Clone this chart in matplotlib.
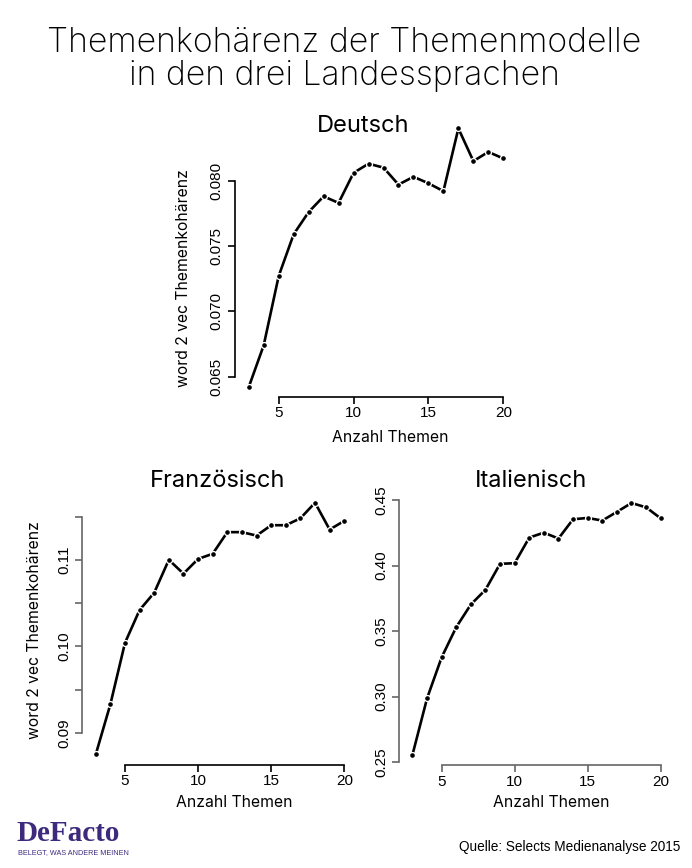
import matplotlib
matplotlib.use("Agg")
import matplotlib.pyplot as plt

W, H = 692, 868

themen = list(range(3, 21))
deutsch = [0.0642, 0.0674, 0.0727, 0.0759, 0.0776, 0.0788, 0.0783, 0.0806, 0.0813,
           0.0810, 0.0797, 0.0803, 0.0798, 0.0792, 0.0840, 0.0815, 0.0822, 0.0817]
franz = [0.0875, 0.0933, 0.1004, 0.1042, 0.1062, 0.1100, 0.1084, 0.1101, 0.1107,
         0.1132, 0.1132, 0.1128, 0.1140, 0.1140, 0.1148, 0.1166, 0.1135, 0.1145]
ital = [0.2556, 0.2987, 0.3300, 0.3530, 0.3703, 0.3815, 0.4013, 0.4018, 0.4213,
        0.4251, 0.4206, 0.4353, 0.4363, 0.4343, 0.4409, 0.4477, 0.4444, 0.4360]

x_ticks = [5, 10, 15, 20]
de_yticks = [0.065, 0.070, 0.075, 0.080]
de_ylabels = ["0.065", "0.070", "0.075", "0.080"]
fr_yticks = [0.090, 0.095, 0.100, 0.105, 0.110, 0.115]
fr_ylabels = ["0.09", "", "0.10", "", "0.11", ""]
it_yticks = [0.25, 0.30, 0.35, 0.40, 0.45]
it_ylabels = ["0.25", "0.30", "0.35", "0.40", "0.45"]

title_font = ["Inter", "DejaVu Sans"]
tick_font = ["Liberation Sans", "DejaVu Sans"]

fig = plt.figure(figsize=(W / 100, H / 100), dpi=100)
fig.patch.set_facecolor("white")


def make_axes(l, r, t, b, xlim, ylim, yticks, ylabels, spine_color_x, spine_color_y, y, title,
              title_xy, xlab_xy, ylab_xy=None):
    ax = fig.add_axes([l / W, 1 - b / H, (r - l) / W, (b - t) / H])
    ax.set_xlim(*xlim)
    ax.set_ylim(*ylim)
    ax.plot(themen, y, color="black", lw=1.9, zorder=2, solid_joinstyle="round")
    ax.plot(themen, y, linestyle="none", marker="o", ms=4.2, mfc="white", mec="white", zorder=3)
    ax.plot(themen, y, linestyle="none", marker="o", ms=2.3, mfc="black", mec="black", zorder=4)
    for s in ["top", "right"]:
        ax.spines[s].set_visible(False)
    ax.spines["bottom"].set_bounds(x_ticks[0], x_ticks[-1])
    ax.spines["left"].set_bounds(yticks[0], yticks[-1])
    ax.spines["bottom"].set_color(spine_color_x)
    ax.spines["left"].set_color(spine_color_y)
    ax.spines["bottom"].set_linewidth(1.2)
    ax.spines["left"].set_linewidth(1.2)
    ax.set_xticks(x_ticks)
    ax.set_xticklabels([str(v) for v in x_ticks], family=tick_font, fontsize=11)
    ax.set_yticks(yticks)
    ax.set_yticklabels(ylabels, family=tick_font, fontsize=11, rotation=90, va="center")
    ax.tick_params(axis="x", length=5, width=1.2, color=spine_color_x, pad=2)
    ax.tick_params(axis="y", length=5, width=1.2, color=spine_color_y, pad=3)
    ax.patch.set_alpha(0)
    fig.text(title_xy[0] / W, 1 - title_xy[1] / H, title, family=title_font, fontsize=17,
             fontweight="normal", ha="center", va="baseline")
    fig.text(xlab_xy[0] / W, 1 - xlab_xy[1] / H, "Anzahl Themen", family=title_font,
             fontsize=11.3, fontweight="normal", ha="center", va="baseline")
    if ylab_xy is not None:
        fig.text(ylab_xy[0] / W, 1 - ylab_xy[1] / H, "word 2 vec Themenkohärenz",
                 family=title_font, fontsize=11.3, fontweight="normal", ha="center",
                 va="center", rotation=90)
    return ax


make_axes(234.5, 513.5, 118.1, 396.7, (2.05, 20.68), (0.06347, 0.08479),
          de_yticks, de_ylabels, "black", "black", deutsch, "Deutsch",
          (363, 132), (390, 442), (183, 278))
make_axes(82.3, 354.2, 492.7, 764.5, (2.08, 20.68), (0.08634, 0.11776),
          fr_yticks, fr_ylabels, "black", "#666666", franz, "Französisch",
          (218, 487), (234, 807), (35, 630))
make_axes(399.3, 670.6, 492.9, 765.0, (2.10, 20.68), (0.2479, 0.4554),
          it_yticks, it_ylabels, "#666666", "#666666", ital, "Italienisch",
          (531, 487), (551, 807))

fig.text(344 / W, 1 - 51.5 / H, "Themenkohärenz der Themenmodelle", family=title_font,
         fontsize=24.3, fontweight="light", ha="center", va="baseline")
fig.text(344 / W, 1 - 85 / H, "in den drei Landessprachen", family=title_font,
         fontsize=24.3, fontweight="light", ha="center", va="baseline")

fig.text(16 / W, 1 - 841 / H, "DeFacto", family=["Liberation Serif", "DejaVu Serif"],
         fontsize=21, color="#3d2a7d", ha="left", va="baseline", fontweight="bold")
fig.text(18 / W, 1 - 854 / H, "BELEGT, WAS ANDERE MEINEN", family=["Liberation Sans", "DejaVu Sans"],
         fontsize=5.2, color="#3d2a7d", ha="left", va="baseline")
fig.text(680 / W, 1 - 851 / H, "Quelle: Selects Medienanalyse 2015",
         family=["Liberation Sans Narrow", "Liberation Sans", "DejaVu Sans"],
         fontsize=9.8, color="black", ha="right", va="baseline")

fig.savefig("out.png", dpi=100, facecolor="white")
